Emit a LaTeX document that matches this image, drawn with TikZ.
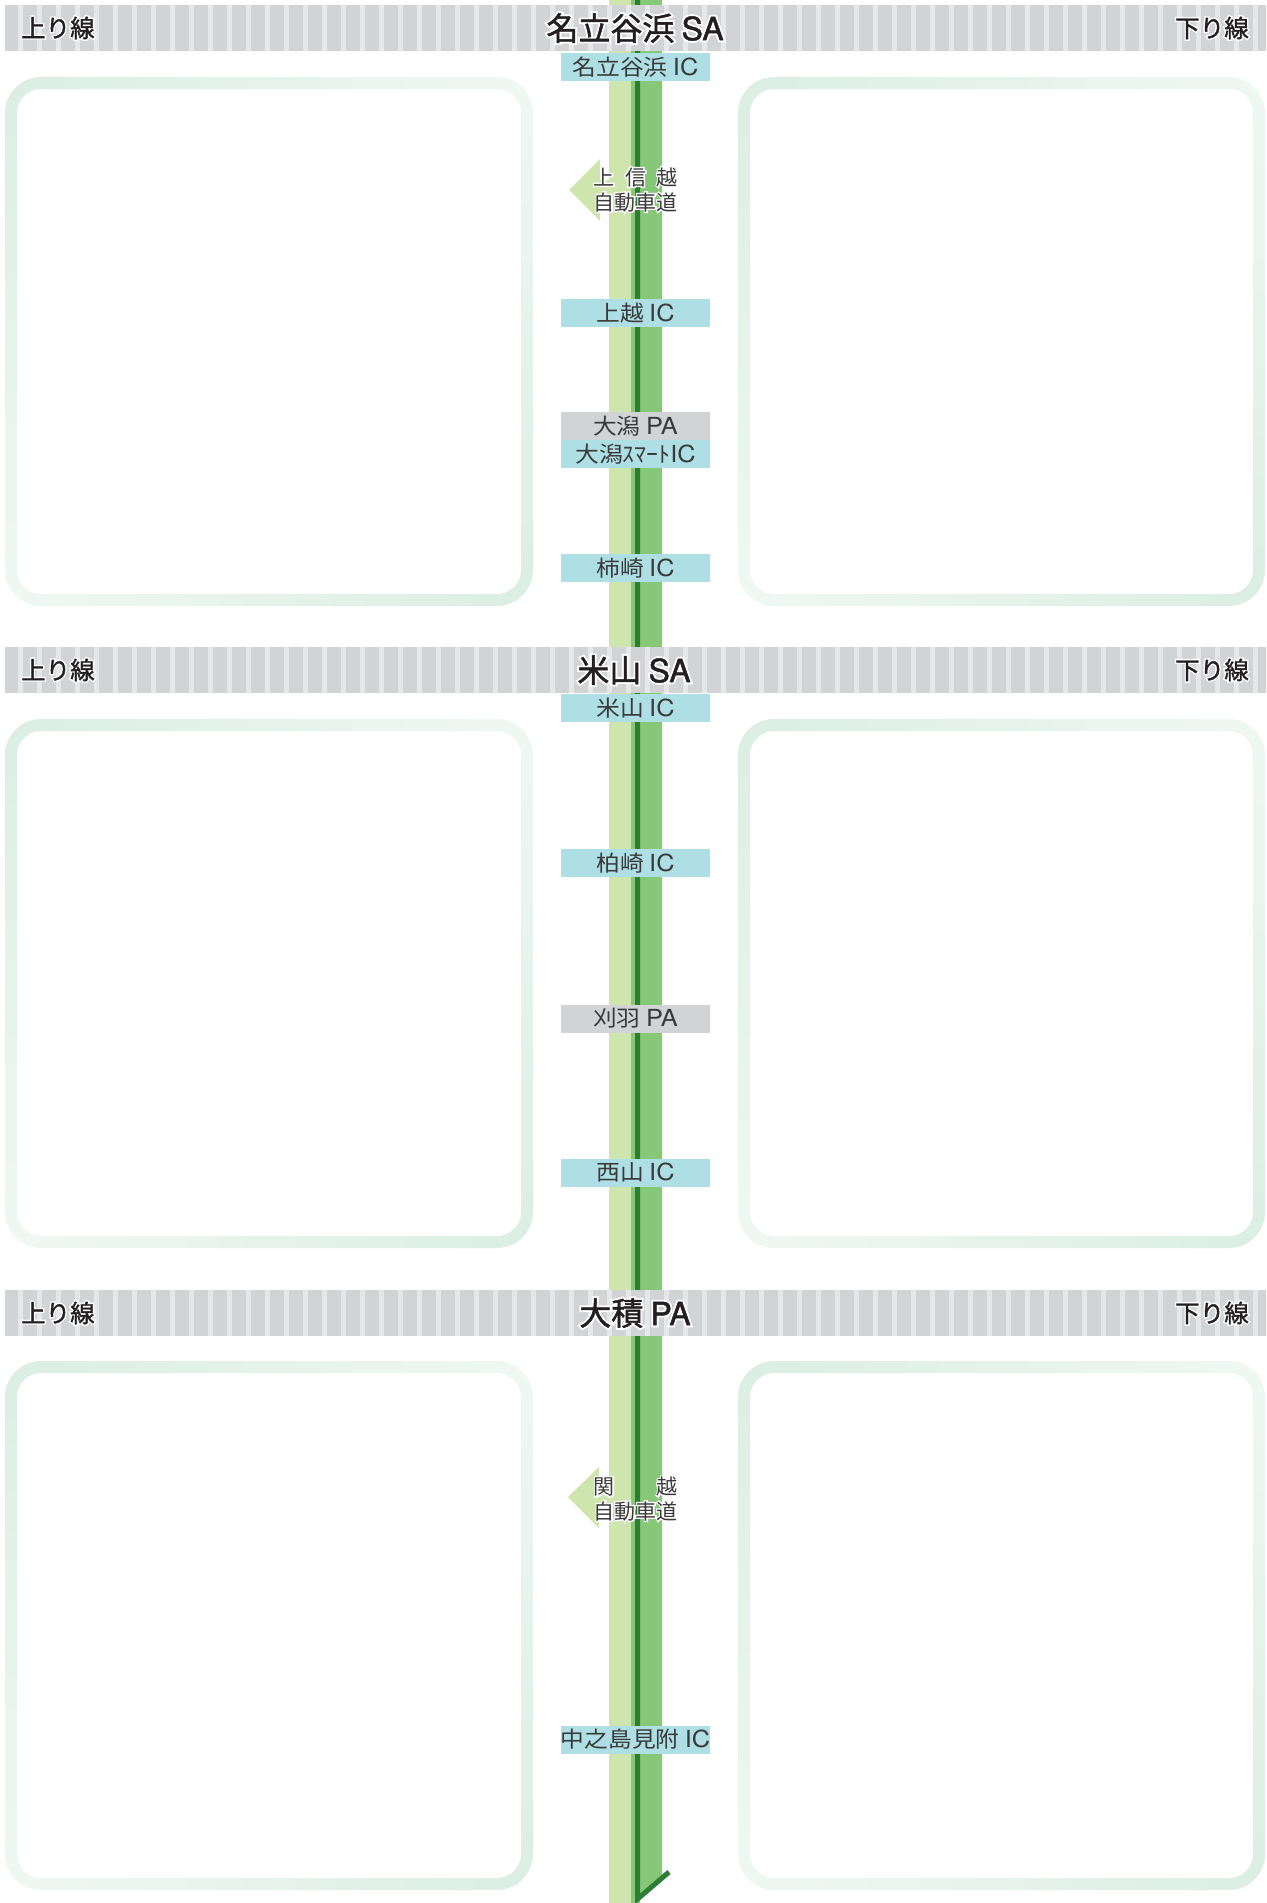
\documentclass[tikz,border=0pt]{standalone}
\usepackage{fontspec}
\usepackage{graphicx}
\usetikzlibrary{shadings}
\setmainfont{Noto Sans CJK JP}
\newfontfamily\jpN{Noto Sans CJK JP}
\newfontfamily\jpB[FakeBold=1.5]{Noto Sans CJK JP}
\newfontfamily\jpH[FakeBold=13]{Noto Sans CJK JP}
\newfontfamily\latN{TeX Gyre Heros}
\newfontfamily\latB[FakeBold=1.5]{TeX Gyre Heros}
\newfontfamily\latH[FakeBold=13]{TeX Gyre Heros}
\newif\ifhalo
\newif\ifheavy
\newcommand\jpf{\ifhalo\jpH\else\ifheavy\jpB\else\jpN\fi\fi}
\newcommand\latf{\ifhalo\latH\else\ifheavy\latB\else\latN\fi\fi}
\newcommand\halo[1]{\leavevmode\rlap{\halotrue\jpf\color{white}#1}{\jpf#1}}
\newcommand\wide[1]{\scalebox{1.08}[1]{#1}}
\newcommand\icl{{\latf\fontsize{23.5}{23.5}\selectfont IC}}
\newcommand\pal{{\latf\fontsize{23.5}{23.5}\selectfont PA}}
\definecolor{roadlight}{HTML}{CFE5AE}
\definecolor{roadmid}{HTML}{86C878}
\definecolor{roaddark}{HTML}{2E7D32}
\definecolor{iccyan}{HTML}{AEDFE4}
\definecolor{pagrey}{HTML}{D1D3D4}
\definecolor{stripedark}{HTML}{D1D3D4}
\definecolor{stripelight}{HTML}{E6E7E8}
\definecolor{hdrtxt}{HTML}{231F20}
\definecolor{labeltxt}{HTML}{3A3A3A}
\definecolor{panA}{HTML}{DBEEE3}
\definecolor{panB}{HTML}{F0F8F4}
\tikzset{
  icbox/.style={fill=iccyan, minimum width=149pt, minimum height=28pt, inner sep=0pt,
    text=labeltxt, font=\jpf\fontsize{22}{22}\selectfont, text height=16.8pt, text depth=0pt},
  pabox/.style={icbox, fill=pagrey},
  hdr/.style={inner sep=0pt, anchor=base, text=hdrtxt, font=\heavytrue\jpf\fontsize{32}{32}\selectfont},
  sidelbl/.style={inner sep=0pt, text=hdrtxt, font=\heavytrue\jpf\fontsize{24.5}{24.5}\selectfont},
  arrtxt/.style={inner sep=0pt, anchor=base, text=labeltxt, font=\jpf\fontsize{21}{21}\selectfont},
  panelring/.style={even odd rule, upper left=panA, lower right=panA, upper right=panB, lower left=panB}
}
\begin{document}
\begin{tikzpicture}[x=1pt,y=-1pt]
\useasboundingbox (0,0) rectangle (1266,1903);
\fill[white] (0,0) rectangle (1266,1903);
% panels
\foreach \dy in {0,642,1284}{
  \shade[panelring, rounded corners=36pt] (5,77+\dy) rectangle (533,606+\dy)
     [rounded corners=24pt] (17,89+\dy) rectangle (521,594+\dy);
  \shade[panelring, rounded corners=36pt] (738,77+\dy) rectangle (1265,606+\dy)
     [rounded corners=24pt] (750,89+\dy) rectangle (1253,594+\dy);
}
% road
\fill[roadlight] (609,0) rectangle (631,1903);
\fill[roadmid] (631,0) -- (662,0) -- (662,1879) -- (640,1899) -- (640,1903) -- (631,1903) -- cycle;
\draw[roaddark, line width=5pt] (637.5,0) -- (637.5,1899) -- (669,1872);
% arrows
\fill[roadlight] (569,190) -- (600,159) -- (600,180) -- (610,180) -- (610,200) -- (600,200) -- (600,221) -- cycle;
\fill[roadlight] (568,1497) -- (599,1467) -- (599,1487) -- (610,1487) -- (610,1507) -- (599,1507) -- (599,1528) -- cycle;
% striped bands
\foreach \yb in {5,647,1290}{
  \fill[stripelight] (5,\yb) rectangle (1266,\yb+46);
  \begin{scope}
    \clip (5,\yb) rectangle (1266,\yb+46);
    \foreach \k in {0,...,66}{
      \fill[stripedark] ({4.3+19*\k},\yb) rectangle ({18.3+19*\k},\yb+46);
    }
  \end{scope}
}
% band texts
\node[hdr] (sa1) at (635,40.2) {\halo{名立谷浜 \latf SA}};
\node[hdr] (sa2) at (634,682.2) {\halo{米山 \latf SA}};
\node[hdr] (pa3) at (635,1325.2) {\halo{大積 \latf PA}};
\node[sidelbl, anchor=base west] (up1) at (21,37.3) {\halo{上り線}};
\node[sidelbl, anchor=base west] (up2) at (21,679.3) {\halo{上り線}};
\node[sidelbl, anchor=base west] (up3) at (21,1322.3) {\halo{上り線}};
\node[sidelbl, anchor=base east] (dn1) at (1249,37.3) {\halo{下り線}};
\node[sidelbl, anchor=base east] (dn2) at (1249,679.3) {\halo{下り線}};
\node[sidelbl, anchor=base east] (dn3) at (1249,1322.3) {\halo{下り線}};
% label boxes
\node[icbox] (nadachi) at (635.5,67) {\wide{名立谷浜 \icl}};
\node[icbox] (joetsu) at (635.5,313) {\wide{上越 \icl}};
\node[pabox] (ogatapa) at (635.5,426) {\wide{大潟 \pal}};
\node[icbox] (ogatasic) at (635.5,454) {\wide{大潟ｽﾏｰﾄ\icl}};
\node[icbox] (kakizaki) at (635.5,568) {\wide{柿崎 \icl}};
\node[icbox] (yoneyama) at (635.5,708) {\wide{米山 \icl}};
\node[icbox] (kashiwazaki) at (635.5,863) {\wide{柏崎 \icl}};
\node[pabox] (kariwa) at (635.5,1018.5) {\wide{刈羽 \pal}};
\node[icbox] (nishiyama) at (635.5,1172.5) {\wide{西山 \icl}};
\node[icbox] (mitsuke) at (635.5,1739.5) {\wide{中之島見附 \icl}};
% arrow texts
\node[arrtxt] (jsk1) at (635.5,185) {\halo{\makebox[84pt][s]{上\hfill 信\hfill 越}}};
\node[arrtxt] (jsk2) at (635.5,210) {\halo{自動車道}};
\node[arrtxt] (kne1) at (635.5,1494.5) {\halo{\makebox[84pt][s]{関\hfill 越}}};
\node[arrtxt] (kne2) at (635.5,1519) {\halo{自動車道}};
\end{tikzpicture}
\end{document}
